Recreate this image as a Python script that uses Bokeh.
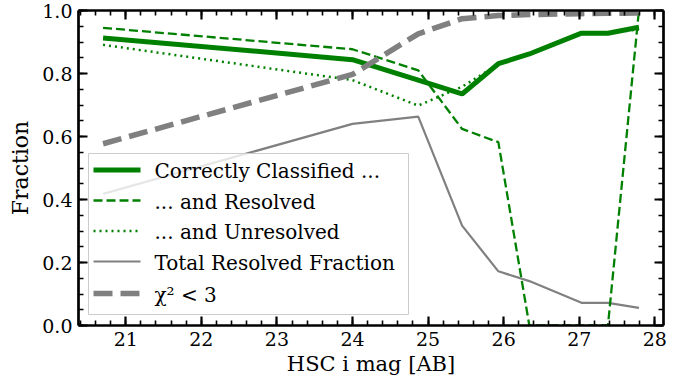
from bokeh.plotting import figure
from bokeh.models import Range1d, LinearAxis, SingleIntervalTicker, PrintfTickFormatter, ColumnDataSource
from bokeh.embed import file_html
from bokeh.resources import INLINE

# ---- data ----
mag = [20.70, 24.00, 24.87, 25.45, 25.93, 26.34, 27.03, 27.38, 27.79]
correct = [0.913, 0.844, 0.779, 0.735, 0.831, 0.862, 0.928, 0.928, 0.947]
resolved = [0.945, 0.877, 0.810, 0.624, 0.582, 0.0, 0.0, 0.0, 1.0]
unresolved = [0.891, 0.779, 0.698, 0.758, 0.829, 0.862, 0.928, 0.928, 0.940]
total_resolved = [0.418, 0.640, 0.663, 0.317, 0.172, 0.141, 0.072, 0.072, 0.056]
chi2_lt3 = [0.577, 0.797, 0.926, 0.974, 0.984, 0.987, 0.990, 0.991, 0.992]

labels = ["Correctly Classified ...", "... and Resolved", "... and Unresolved",
          "Total Resolved Fraction", "\u03c7\u00b2 < 3"]

GREEN = "#008000"
GRAY = "#808080"
FONT = "DejaVu Serif"
FONT_Q = '"DejaVu Serif"'
FONT_ALT = "'DejaVu Serif'"

X0, X1 = 20.375, 28.115
FL, FR, FT, FB = 78, 663, 10, 325   # frame edges in pixels

p = figure(width=685, height=381, output_backend="svg", toolbar_location=None,
           x_range=Range1d(X0, X1), y_range=Range1d(0, 1),
           x_axis_type=None, y_axis_type=None,
           min_border_left=FL, min_border_right=685 - FR,
           min_border_top=FT, min_border_bottom=381 - FB)
p.outline_line_color = None
p.background_fill_color = "white"


def px2x(px):
    return X0 + (px - FL) * (X1 - X0) / (FR - FL)


def py2y(py):
    return (FB - py) / (FB - FT)


def style_axis(ax, show_labels):
    ax.axis_line_width = 2.7
    ax.axis_line_color = "black"
    ax.major_tick_in = 9
    ax.major_tick_out = 0
    ax.minor_tick_in = 5
    ax.minor_tick_out = 0
    ax.major_tick_line_width = 2.2
    ax.minor_tick_line_width = 1.6
    ax.major_tick_line_color = "black"
    ax.minor_tick_line_color = "black"
    if show_labels:
        ax.major_label_text_font = FONT
        ax.major_label_text_font_size = "19px"
        ax.major_label_text_color = "black"
    else:
        ax.major_label_text_font_size = "0px"
        ax.major_label_standoff = 0


xb = LinearAxis(ticker=SingleIntervalTicker(interval=1, num_minor_ticks=5))
style_axis(xb, True)
xb.major_label_standoff = 6
xb.axis_label = "HSC i mag [AB]"
xb.axis_label_text_font = FONT
xb.axis_label_text_font_size = "21px"
xb.axis_label_text_font_style = "normal"
xb.axis_label_text_color = "black"
xb.axis_label_standoff = 3
p.add_layout(xb, "below")

xt = LinearAxis(ticker=SingleIntervalTicker(interval=1, num_minor_ticks=5))
style_axis(xt, False)
p.add_layout(xt, "above")

yl = LinearAxis(ticker=SingleIntervalTicker(interval=0.2, num_minor_ticks=4),
                formatter=PrintfTickFormatter(format="%.1f"))
style_axis(yl, True)
yl.major_label_standoff = 6
yl.axis_label = "Fraction"
yl.axis_label_text_font = FONT
yl.axis_label_text_font_size = "22px"
yl.axis_label_text_font_style = "normal"
yl.axis_label_text_color = "black"
yl.axis_label_standoff = 6
p.add_layout(yl, "left")

yr = LinearAxis(ticker=SingleIntervalTicker(interval=0.2, num_minor_ticks=4))
style_axis(yr, False)
p.add_layout(yr, "right")

# ---- series styles ----
styles = [dict(color=GREEN, line_width=5),
          dict(color=GREEN, line_width=2.3, line_dash="9 4"),
          dict(color=GREEN, line_width=2.5, line_dash="2 4"),
          dict(color=GRAY, line_width=2.2),
          dict(color=GRAY, line_width=5.5, line_dash="19 8")]
series = [correct, resolved, unresolved, total_resolved, chi2_lt3]

# drawing order: total resolved first, then greens, chi2 on top
for k in [3, 0, 1, 2, 4]:
    p.line(mag, series[k], **styles[k])

# ---- legend drawn by hand (serif font) ----
box_l, box_r, box_t, box_b = 88, 408, 153, 314
p.quad(left=[px2x(box_l)], right=[px2x(box_r)], top=[py2y(box_t)], bottom=[py2y(box_b)],
       fill_color="white", fill_alpha=0.8, line_color="#cccccc", line_width=1)
row_py = [169.5, 200, 230.5, 261, 293]
g_l, g_r, t_l = 93, 140, 154
for k in range(5):
    yy = py2y(row_py[k])
    p.line([px2x(g_l), px2x(g_r)], [yy, yy], **styles[k])

xs, ys, ts, fs = [], [], [], []
for k in range(5):
    yy = py2y(row_py[k] + 1)
    # an invisible spacer before each row so the row's font is set afresh
    xs += [px2x(t_l), px2x(t_l)]
    ys += [yy, yy]
    ts += [" ", labels[k]]
    fs += [FONT_ALT, FONT_Q]
src = ColumnDataSource(dict(x=xs, y=ys, t=ts, f=fs))
p.text(x="x", y="y", text="t", text_font="f", source=src,
       text_font_size="20px", text_color="black",
       text_baseline="middle", text_align="left")

open("out.html", "w").write(file_html(p, INLINE))
